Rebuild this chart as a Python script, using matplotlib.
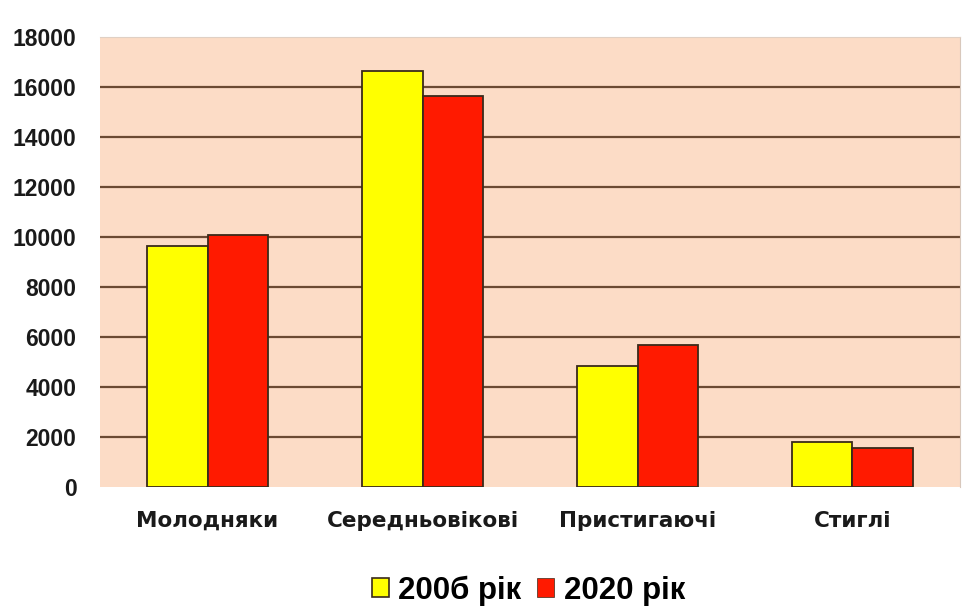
import numpy as np
import matplotlib.pyplot as plt
from matplotlib.patches import Patch

plt.rcParams['font.family'] = ['Liberation Sans', 'DejaVu Sans']

categories = ['Молодняки', 'Середньовікові', 'Пристигаючі', 'Стиглі']
series_names = ['200б рік', '2020 рік']
values_2006 = [9650, 16650, 4850, 1800]
values_2020 = [10100, 15650, 5700, 1550]
y_ticks = [0, 2000, 4000, 6000, 8000, 10000, 12000, 14000, 16000, 18000]

colors = ['#ffff00', '#ff1a00']
edge = '#3a2a1a'

fig = plt.figure(figsize=(9.75, 6.12), dpi=100)
ax = fig.add_axes([0.1026, 0.2042, 0.8820, 0.7353])
ax.set_facecolor('#fcdcc6')

x = np.arange(len(categories))
w = 0.283
ax.bar(x - w / 2, values_2006, w, color=colors[0], edgecolor=edge, linewidth=1.3, zorder=3)
ax.bar(x + w / 2, values_2020, w, color=colors[1], edgecolor=edge, linewidth=1.3, zorder=3)

# horizontal grid lines (interior only)
for yv in y_ticks[1:-1]:
    ax.axhline(yv, color='#6b4a33', linewidth=1.6, zorder=1)

ax.set_xlim(-0.5, len(categories) - 0.5)
ax.set_ylim(0, 18000)
ax.set_yticks(y_ticks)
ax.set_yticklabels([str(t) for t in y_ticks], fontsize=16.5, fontweight='bold', color='#1a1a1a')
ax.set_xticks(x)
ax.set_xticklabels(categories, fontsize=15.5, fontweight='bold', color='#1a1a1a',
                   family=['DejaVu Sans'])
ax.tick_params(axis='y', length=0, pad=17)
ax.tick_params(axis='x', length=0, pad=17)
for s in ax.spines.values():
    s.set_visible(False)
ax.spines['right'].set_visible(True)
ax.spines['right'].set_color('#d8c8bc')
ax.spines['top'].set_visible(True)
ax.spines['top'].set_color('#e0d0c4')

handles = [Patch(facecolor=colors[0], edgecolor=edge, linewidth=1.2),
           Patch(facecolor=colors[1], edgecolor=edge, linewidth=0.5)]
fig.legend(handles, series_names, loc='center', bbox_to_anchor=(0.542, 0.035),
           ncol=2, frameon=False, handlelength=0.55, handleheight=0.55,
           handletextpad=0.3, columnspacing=0.5,
           prop={'size': 22.5, 'weight': 'bold'})

fig.savefig('out.png', dpi=100)
